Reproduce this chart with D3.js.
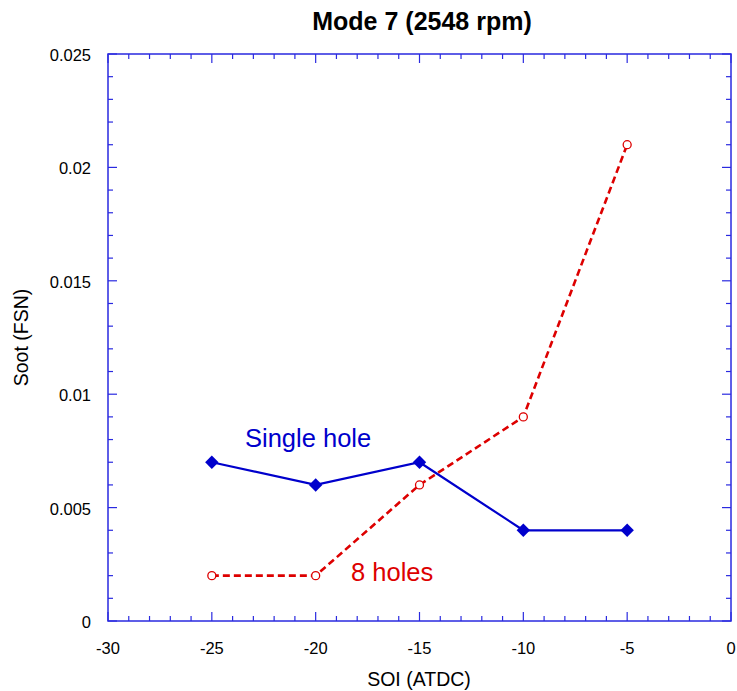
<!DOCTYPE html>
<html><head><meta charset="utf-8">
<script src="https://cdn.jsdelivr.net/npm/d3@7"></script>
<style>body{margin:0;background:#fff}</style>
</head><body>
<svg id="c" width="737" height="691"></svg>
<script>
const soi = [-25, -20, -15, -10, -5];
const singleHole = [0.007, 0.006, 0.007, 0.004, 0.004];
const eightHoles = [0.002, 0.002, 0.006, 0.009, 0.021];
const xTicks = [-30, -25, -20, -15, -10, -5, 0];
const yTicks = [0, 0.005, 0.01, 0.015, 0.02, 0.025];
const yTickLabels = ["0", "0.005", "0.01", "0.015", "0.02", "0.025"];

const svg = d3.select("#c");
const L = 108, R = 731, T = 54, B = 621;
const x = d3.scaleLinear().domain([-30, 0]).range([L, R]);
const y = d3.scaleLinear().domain([0, 0.025]).range([B, T]);
const axisCol = "#2a2ae0";
const font = "Liberation Sans, Arial, sans-serif";

// frame
svg.append("rect").attr("x", L).attr("y", T).attr("width", R - L).attr("height", B - T)
  .attr("fill", "none").attr("stroke", axisCol).attr("stroke-width", 1.5);

const xMinor = d3.range(-30, 0.5, 1);
const yMinor = d3.range(0, 0.02501, 0.001);
const g = svg.append("g").attr("stroke", axisCol).attr("stroke-width", 1.2);
xMinor.forEach(v => {
  const major = Math.abs(v % 5) < 1e-9;
  const len = major ? 9 : 5;
  g.append("line").attr("x1", x(v)).attr("x2", x(v)).attr("y1", B).attr("y2", B - len);
  g.append("line").attr("x1", x(v)).attr("x2", x(v)).attr("y1", T).attr("y2", T + len);
});
yMinor.forEach((v, i) => {
  const major = i % 5 === 0;
  const len = major ? 9 : 5;
  g.append("line").attr("y1", y(v)).attr("y2", y(v)).attr("x1", L).attr("x2", L + len);
  g.append("line").attr("y1", y(v)).attr("y2", y(v)).attr("x1", R).attr("x2", R - len);
});

// tick labels
svg.append("g").selectAll("text").data(xTicks).join("text")
  .attr("x", d => x(d)).attr("y", B + 33).attr("text-anchor", "middle")
  .attr("font-family", font).attr("font-size", 16.5).attr("fill", "#000").text(d => d);
svg.append("g").selectAll("text").data(yTicks).join("text")
  .attr("x", L - 17).attr("y", d => y(d) + 7).attr("text-anchor", "end")
  .attr("font-family", font).attr("font-size", 16.5).attr("fill", "#000").text((d, i) => yTickLabels[i]);

// axis titles
svg.append("text").attr("x", 419).attr("y", 686).attr("text-anchor", "middle")
  .attr("font-family", font).attr("font-size", 19.5).text("SOI (ATDC)");
svg.append("text").attr("transform", `translate(28,${(T + B) / 2}) rotate(-90)`).attr("text-anchor", "middle")
  .attr("font-family", font).attr("font-size", 19.5).text("Soot (FSN)");
svg.append("text").attr("x", 422).attr("y", 30).attr("text-anchor", "middle")
  .attr("font-family", font)
  .attr("font-weight", "bold").attr("font-size", 25).text("Mode 7 (2548 rpm)");

const line = d3.line().x(d => x(d[0])).y(d => y(d[1]));
const blue = "#0000cc", red = "#dd0000";
const sData = soi.map((s, i) => [s, singleHole[i]]);
const eData = soi.map((s, i) => [s, eightHoles[i]]);

svg.append("path").datum(eData).attr("d", line).attr("fill", "none").attr("stroke", red)
  .attr("stroke-width", 2.6).attr("stroke-dasharray", "7,4");
svg.append("path").datum(sData).attr("d", line).attr("fill", "none").attr("stroke", blue)
  .attr("stroke-width", 2.2);

svg.append("g").selectAll("path").data(sData).join("path")
  .attr("d", d3.symbol(d3.symbolDiamond2 || d3.symbolDiamond, 115)())
  .attr("transform", d => `translate(${x(d[0])},${y(d[1])})`).attr("fill", blue);
svg.append("g").selectAll("circle").data(eData).join("circle")
  .attr("cx", d => x(d[0])).attr("cy", d => y(d[1])).attr("r", 4)
  .attr("fill", "#fff").attr("stroke", red).attr("stroke-width", 1.3);

svg.append("text").attr("x", 245).attr("y", 447).attr("font-family", font).attr("font-size", 25.5)
  .attr("fill", blue).text("Single hole");
svg.append("text").attr("x", 351).attr("y", 581).attr("font-family", font).attr("font-size", 25.5)
  .attr("fill", red).text("8 holes");
</script>
</body></html>
